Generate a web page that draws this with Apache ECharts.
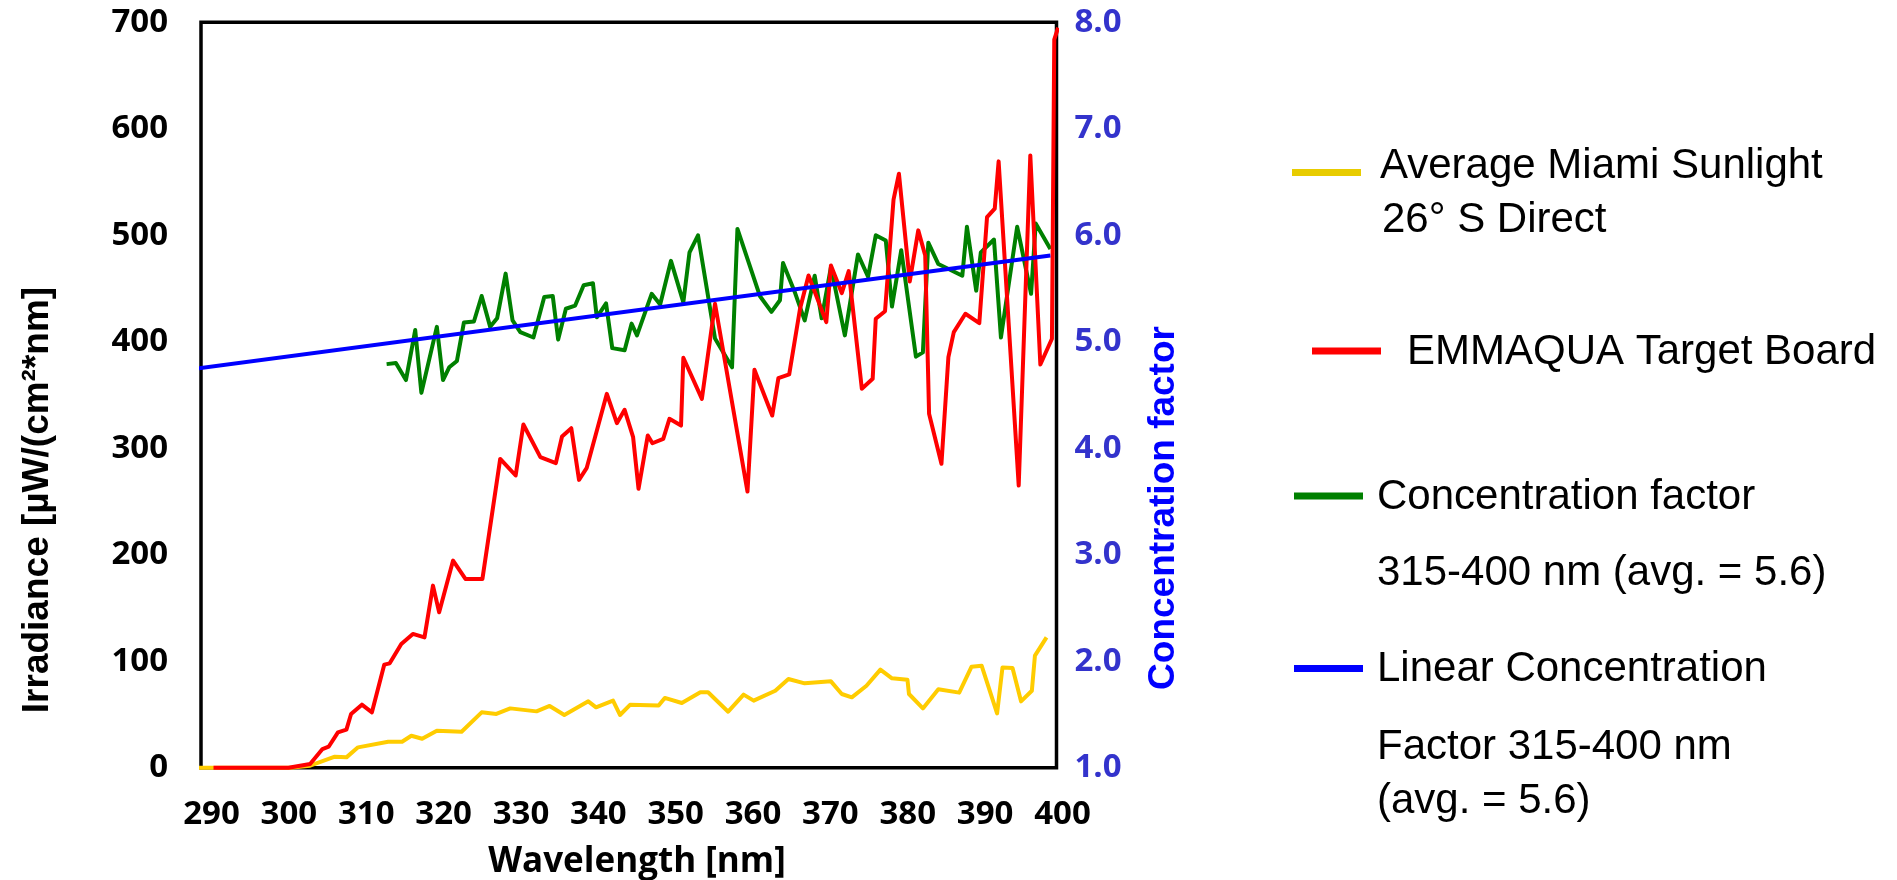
<!DOCTYPE html>
<html>
<head>
<meta charset="utf-8">
<title>Irradiance and concentration factor</title>
<script src="https://cdn.jsdelivr.net/npm/echarts@6/dist/echarts.min.js"></script>
<style>
  html, body { margin: 0; padding: 0; background: #ffffff; }
  #chart { width: 1897px; height: 880px; }
</style>
</head>
<body>
<div id="chart"></div>
<script>
// Tick labels
const wavelengthTicks = [290, 300, 310, 320, 330, 340, 350, 360, 370, 380, 390, 400];

// Average Miami sunlight, 26° S direct (irradiance, µW/(cm²·nm))
const sunWavelength = [287.8, 290.2, 300.1, 302.7, 305.9, 307.4, 308.9, 312.8, 314.6, 315.8, 317.2, 319.1,
  322.3, 324.9, 326.8, 328.6, 332.0, 333.7, 335.6, 338.7, 339.7, 341.9, 342.8, 344.1, 347.8, 348.6,
  350.8, 353.2, 354.2, 356.8, 358.8, 360.1, 362.9, 364.6, 366.7, 370.1, 371.5, 372.8, 374.7, 376.5,
  378.0, 380.0, 380.2, 382.0, 384.0, 386.7, 388.3, 389.6, 391.6, 392.3, 393.6, 394.7, 396.1, 396.5, 398.0];
const sunIrradiance = [0, 0, 0, 1.9, 10.3, 9.7, 19.1, 24.4, 24.4, 30, 27.2, 34.8,
  33.8, 52, 50.5, 55.7, 52.9, 58, 49.5, 62.3, 56.7, 63, 49.5, 59, 58.3, 65.5,
  60.8, 70.8, 70.8, 52.6, 68.6, 63, 72.3, 83.3, 79.2, 81.1, 69.2, 66.1, 77, 92.1,
  83.9, 82.7, 69.2, 55.7, 73.6, 70.5, 94.9, 95.8, 51, 94.2, 93.7, 62.3, 72.3, 105.2, 122.4];

// EMMAQUA target board (irradiance, µW/(cm²·nm))
const boardWavelength = [290.2, 299.9, 302.7, 304.3, 305.1, 306.3, 307.4, 308.0, 309.4, 310.7, 312.3, 313.0,
  314.5, 316.0, 317.5, 318.6, 319.4, 321.2, 322.8, 325.0, 327.3, 329.3, 330.3, 332.5, 334.5, 335.3,
  336.5, 337.5, 338.5, 341.1, 342.4, 343.4, 344.5, 345.2, 346.4, 347.0, 348.4, 349.2, 350.7, 351.0,
  353.4, 355.1, 359.3, 360.2, 362.5, 363.3, 364.7, 366.1, 367.2, 369.5, 370.1, 371.5, 372.4, 374.1,
  375.5, 375.9, 377.1, 378.2, 378.9, 380.3, 381.4, 382.3, 382.8, 384.4, 385.3, 386.0, 387.5, 389.3,
  390.3, 391.3, 391.8, 394.4, 395.9, 397.2, 398.7, 399.0, 399.5];
const boardIrradiance = [0, 0, 3.4, 17.5, 19.7, 33.2, 35.7, 50.4, 59.2, 52, 96.8, 98,
  116.2, 125.6, 122.4, 171, 145.9, 194.5, 177.3, 177.3, 290, 274.4, 322.3, 291.6, 286, 311,
  318.8, 270.3, 281.6, 351.1, 323.5, 336.1, 310.4, 261.9, 312, 304.7, 308.8, 327.6, 321.3, 385,
  346.4, 435.7, 259.3, 373.7, 330.7, 365.8, 369.3, 431, 462.3, 418.4, 471.7, 445.7, 466.3, 355.8,
  365.2, 421.6, 428.7, 533.4, 557.8, 456.6, 504.6, 481, 332.3, 285.4, 385.5, 409, 426.3, 417.5,
  517, 525, 569.4, 265, 575, 378.6, 402.8, 683.7, 695];

// Concentration factor 315-400 nm
const factorWavelength = [312.6, 313.8, 315.1, 316.3, 317.1, 319.1, 319.9, 320.7, 321.7, 322.6, 323.9, 324.9,
  326.0, 326.9, 328.0, 328.9, 329.9, 331.6, 333.0, 334.1, 334.8, 335.8, 337.0, 338.1, 339.3, 339.8,
  341.0, 341.8, 343.4, 344.3, 345.0, 346.9, 348.0, 349.4, 351.0, 351.8, 352.9, 355.1, 357.3, 358.0,
  360.9, 362.4, 363.5, 363.9, 365.4, 366.7, 368.0, 368.9, 370.1, 371.9, 373.6, 374.9, 375.9, 377.2,
  378.0, 379.2, 381.1, 382.0, 382.7, 384.0, 387.1, 387.7, 388.9, 389.5, 391.2, 392.1, 394.2, 396.0,
  396.6, 398.5];
const factorValue = [4.79, 4.80, 4.64, 5.11, 4.52, 5.14, 4.64, 4.76, 4.82, 5.18, 5.19, 5.43,
  5.14, 5.22, 5.64, 5.20, 5.09, 5.04, 5.42, 5.43, 5.02, 5.31, 5.34, 5.53, 5.55, 5.23,
  5.36, 4.94, 4.92, 5.17, 5.06, 5.45, 5.35, 5.76, 5.37, 5.84, 6.00, 5.03, 4.76, 6.06,
  5.43, 5.28, 5.39, 5.74, 5.47, 5.20, 5.62, 5.22, 5.70, 5.06, 5.82, 5.61, 6.00, 5.95,
  5.33, 5.86, 4.86, 4.90, 5.93, 5.73, 5.62, 6.08, 5.48, 5.84, 5.96, 5.04, 6.08, 5.45,
  6.11, 5.87];

// Linear concentration factor 315-400 nm
const trendWavelength = [288.1, 398.5];
const trendValue = [4.75, 5.81];

const zip = (xs, ys) => xs.map((x, i) => [x, ys[i]]);

const tickFont = '"Open Sans", "Liberation Sans", sans-serif';
const legendFont = '42px "Liberation Sans", Arial, sans-serif';

function lineSeries(name, color, xs, ys, axis, z) {
  return {
    name: name,
    type: 'line',
    xAxisIndex: 0,
    yAxisIndex: axis,
    data: zip(xs, ys),
    showSymbol: false,
    symbol: 'none',
    clip: false,
    z: z,
    lineStyle: { color: color, width: 4, join: 'round' },
    itemStyle: { color: color },
    animation: false
  };
}

function legendEntry(color, x1, x2, y, lines) {
  const items = [{
    type: 'line',
    shape: { x1: x1, y1: y, x2: x2, y2: y },
    style: { stroke: color, lineWidth: 7 }
  }];
  lines.forEach(l => items.push({
    type: 'text',
    x: l.x, y: l.y,
    style: { text: l.text, font: legendFont, fill: '#000', align: 'left', verticalAlign: 'middle' }
  }));
  return items;
}

const chart = echarts.init(document.getElementById('chart'), null, { renderer: 'canvas' });

chart.setOption({
  backgroundColor: '#ffffff',
  animation: false,
  grid: [{
    // plot frame
    left: 201, right: 840.5, top: 22.3, bottom: 112.3,
    show: true, borderColor: '#000000', borderWidth: 3.5, backgroundColor: 'transparent'
  }, {
    // wavelength tick-label band, 290 and 400 sit just inside the frame edges
    left: 211.5, right: 834.5, top: 22.3, bottom: 112.3, show: false
  }],
  xAxis: [{
    type: 'value',
    gridIndex: 0,
    min: 288.58, max: 399.29,
    axisLine: { show: false },
    axisTick: { show: false },
    splitLine: { show: false },
    axisLabel: { show: false }
  }, {
    type: 'value',
    gridIndex: 1,
    min: 290, max: 400, interval: 10,
    axisLine: { show: false },
    axisTick: { show: false },
    splitLine: { show: false },
    axisLabel: {
      customValues: wavelengthTicks,
      margin: 30,
      color: '#000000',
      fontFamily: tickFont, fontWeight: 'bold', fontSize: 33
    }
  }],
  yAxis: [{
    type: 'value',
    gridIndex: 0,
    min: 0, max: 700, interval: 100,
    axisLine: { show: false },
    axisTick: { show: false },
    splitLine: { show: false },
    axisLabel: { margin: 33, color: '#000000', fontFamily: tickFont, fontWeight: 'bold', fontSize: 33 }
  }, {
    type: 'value',
    gridIndex: 0,
    position: 'right',
    min: 1, max: 8, interval: 1,
    axisLine: { show: false },
    axisTick: { show: false },
    splitLine: { show: false },
    axisLabel: {
      margin: 18, color: '#3333CC', fontFamily: tickFont, fontWeight: 'bold', fontSize: 33,
      formatter: v => v.toFixed(1)
    }
  }, {
    type: 'value',
    gridIndex: 1,
    show: false,
    min: 0, max: 1
  }],
  series: [
    lineSeries('Average Miami Sunlight 26° S Direct', '#FFCC00', sunWavelength, sunIrradiance, 0, 2),
    lineSeries('Concentration factor 315-400 nm (avg. = 5.6)', '#008000', factorWavelength, factorValue, 1, 3),
    lineSeries('EMMAQUA Target Board', '#FF0000', boardWavelength, boardIrradiance, 0, 4),
    lineSeries('Linear Concentration Factor 315-400 nm (avg. = 5.6)', '#0000FF', trendWavelength, trendValue, 1, 5)
  ],
  graphic: [
    {
      type: 'text', x: 38, y: 500, rotation: Math.PI / 2,
      style: { text: 'Irradiance [µW/(cm²*nm]', font: 'bold 37px "Liberation Sans", Arial, sans-serif',
        fill: '#000000', align: 'center', verticalAlign: 'middle' }
    },
    {
      type: 'text', x: 1164, y: 508, rotation: Math.PI / 2,
      style: { text: 'Concentration factor', font: 'bold 37px "Liberation Sans", Arial, sans-serif',
        fill: '#0000FF', align: 'center', verticalAlign: 'middle' }
    },
    {
      type: 'text', x: 637, y: 862,
      style: { text: 'Wavelength [nm]', font: 'bold 35px "Open Sans", sans-serif',
        fill: '#000000', align: 'center', verticalAlign: 'middle' }
    },
    ...legendEntry('#E8CC00', 1292, 1361, 172.5, [
      { x: 1380, y: 166.5, text: 'Average Miami Sunlight' },
      { x: 1382, y: 220, text: '26° S Direct' }
    ]),
    ...legendEntry('#FF0000', 1312, 1381, 351, [
      { x: 1407, y: 352, text: 'EMMAQUA Target Board' }
    ]),
    ...legendEntry('#008000', 1294, 1363, 496, [
      { x: 1377, y: 497, text: 'Concentration factor' },
      { x: 1377, y: 573.5, text: '315-400 nm (avg. = 5.6)' }
    ]),
    ...legendEntry('#0000FF', 1294, 1363, 668.5, [
      { x: 1377, y: 669.5, text: 'Linear Concentration' },
      { x: 1377, y: 747, text: 'Factor 315-400 nm' },
      { x: 1377, y: 801.5, text: '(avg. = 5.6)' }
    ])
  ]
});
</script>
</body>
</html>
